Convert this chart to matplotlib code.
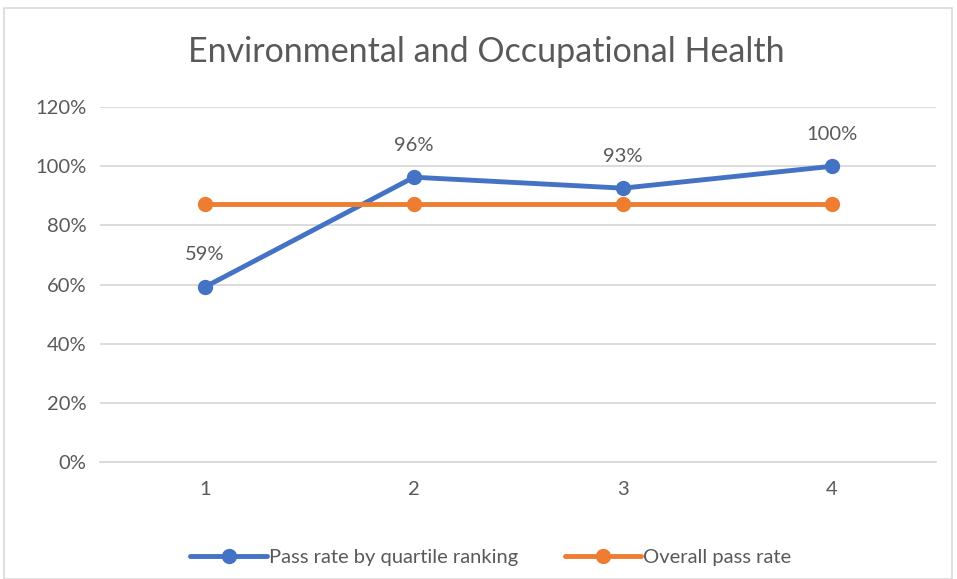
import matplotlib.pyplot as plt
from matplotlib.patches import Rectangle
from matplotlib.ticker import FuncFormatter

quartiles = [1, 2, 3, 4]
pass_rate = [0.592, 0.963, 0.926, 1.0]
overall_rate = [0.872, 0.872, 0.872, 0.872]
pass_labels = ['59%', '96%', '93%', '100%']
title = 'Environmental and Occupational Health'

text_col = '#595959'
blue = '#4472C4'
orange = '#ED7D31'

plt.rcParams['font.family'] = ['Lato', 'DejaVu Sans']

fig = plt.figure(figsize=(9.57, 5.79), dpi=100)
fig.patches.append(Rectangle((4 / 957, 0), 948 / 957, 1 - 8 / 579, transform=fig.transFigure,
                             fill=False, edgecolor='#D9D9D9', linewidth=1.2))
ax = fig.add_axes([0.105, 0.202, 0.8735, 0.613])

ax.plot(quartiles, pass_rate, color=blue, linewidth=3.5, marker='o', markersize=10,
        label='Pass rate by quartile ranking', solid_capstyle='round')
ax.plot(quartiles, overall_rate, color=orange, linewidth=3.5, marker='o', markersize=10,
        label='Overall pass rate', solid_capstyle='round')

for x, y, lab in zip(quartiles, pass_rate, pass_labels):
    ax.annotate(lab, (x, y), xytext=(0, 17), textcoords='offset points', ha='center',
                va='bottom', fontsize=14.5, color=text_col)

ax.set_xlim(0.5, 4.5)
ax.set_ylim(0, 1.2)
ax.set_yticks([0, 0.2, 0.4, 0.6, 0.8, 1.0, 1.2])
ax.set_xticks(quartiles)
ax.yaxis.set_major_formatter(FuncFormatter(lambda v, p: f'{v:.0%}'))
ax.grid(axis='y', color='#D9D9D9', linewidth=1.3)
ax.set_axisbelow(True)
for s in ['top', 'right', 'left']:
    ax.spines[s].set_visible(False)
ax.spines['bottom'].set_color('#D9D9D9')
ax.spines['bottom'].set_linewidth(1.3)
ax.tick_params(length=0, labelsize=14.5, colors=text_col, pad=10)
ax.tick_params(axis='x', pad=14)

fig.text(0.508, 0.91, title, ha='center', va='center', fontsize=24.5, color=text_col)
ax.legend(loc='center', bbox_to_anchor=(0.467, -0.27), ncol=2, frameon=False, fontsize=14.5,
          labelcolor=text_col, handlelength=3.8, handletextpad=0.1, columnspacing=2.3)

fig.savefig('out.png', dpi=100)
